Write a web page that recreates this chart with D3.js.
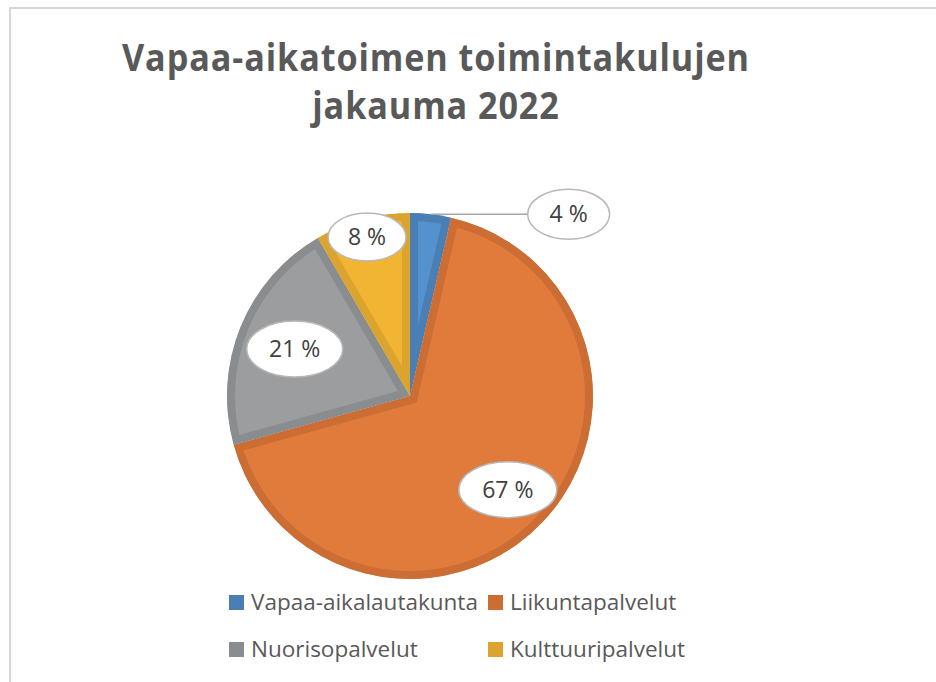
<!DOCTYPE html>
<html>
<head>
<meta charset="utf-8">
<title>Vapaa-aikatoimen toimintakulujen jakauma 2022</title>
<script src="https://d3js.org/d3.v7.min.js"></script>
<style>
body { margin: 0; padding: 0; background: white; }
svg { display: block; }
</style>
</head>
<body>
<svg id="chart" width="936" height="682"></svg>
<script>
// data
var categories = ["Vapaa-aikalautakunta", "Liikuntapalvelut", "Nuorisopalvelut", "Kulttuuripalvelut"];
var shares = [3.6, 67.1, 20.9, 8.4];
var titleLines = ["Vapaa-aikatoimen toimintakulujen", "jakauma 2022"];

var fills   = ["#5592cd", "#e07b3b", "#9b9d9e", "#f2b533"];
var borders = ["#4a7fb6", "#cc6d34", "#8a8d8f", "#daa42f"];

var svg = d3.select("#chart");

// chart frame
svg.append("rect")
  .attr("x", 10).attr("y", 8)
  .attr("width", 940).attr("height", 700)
  .attr("fill", "white")
  .attr("stroke", "#d6d6d6")
  .attr("stroke-width", 2);

// title (slightly condensed, like the original)
var tx = 436, sx = 0.9;
svg.append("g")
  .attr("transform", "translate(" + tx + ",0) scale(" + sx + ",1)")
  .selectAll("text")
  .data(titleLines)
  .enter().append("text")
  .attr("x", 0)
  .attr("y", function(d, i) { return 71 + i * 48; })
  .attr("text-anchor", "middle")
  .attr("font-family", "'Open Sans', sans-serif")
  .attr("font-weight", "bold")
  .attr("font-size", "38px")
  .attr("letter-spacing", "1px")
  .attr("fill", "#595959")
  .text(function(d) { return d; });

var cx = 410, cy = 396, R = 183;

var pie = d3.pie().sort(null).value(function(d) { return d; });
var arcs = pie(shares);
var arc = d3.arc().innerRadius(0).outerRadius(R);

var defs = svg.append("defs");
defs.selectAll("clipPath")
  .data(arcs)
  .enter().append("clipPath")
  .attr("id", function(d, i) { return "clip" + i; })
  .append("path")
  .attr("d", arc);

var g = svg.append("g").attr("transform", "translate(" + cx + "," + cy + ")");

g.selectAll("path.slice")
  .data(arcs)
  .enter().append("path")
  .attr("class", "slice")
  .attr("d", arc)
  .attr("fill", function(d, i) { return fills[i]; })
  .attr("stroke", function(d, i) { return borders[i]; })
  .attr("stroke-width", 16)
  .attr("stroke-linejoin", "miter")
  .attr("clip-path", function(d, i) { return "url(#clip" + i + ")"; });

// labels: inside at a fraction of the radius, small slice outside with leader
var labelR = [null, 0.74, 0.68, 0.9];
var rx = [41, 49, 48, 39], ry = [25, 28, 28, 24];

var labels = arcs.map(function(d, i) {
  var a = (d.startAngle + d.endAngle) / 2;
  var p;
  if (labelR[i] === null) {
    var ex = R * Math.sin(a), ey = -R * Math.cos(a);
    p = { x: ex + 138, y: ey, lx: ex, ly: ey };
  } else {
    p = { x: labelR[i] * R * Math.sin(a), y: -labelR[i] * R * Math.cos(a) };
  }
  p.text = Math.round(d.data) + " %";
  p.i = i;
  return p;
});

g.selectAll("line.leader")
  .data(labels.filter(function(d) { return d.lx !== undefined; }))
  .enter().append("line")
  .attr("class", "leader")
  .attr("x1", function(d) { return d.lx; })
  .attr("y1", function(d) { return d.ly; })
  .attr("x2", function(d) { return d.x - rx[d.i]; })
  .attr("y2", function(d) { return d.y; })
  .attr("stroke", "#a6a6a6")
  .attr("stroke-width", 1.5);

var lab = g.selectAll("g.lab")
  .data(labels)
  .enter().append("g")
  .attr("class", "lab")
  .attr("transform", function(d) { return "translate(" + d.x + "," + d.y + ")"; });

lab.append("ellipse")
  .attr("rx", function(d) { return rx[d.i]; })
  .attr("ry", function(d) { return ry[d.i]; })
  .attr("fill", "white")
  .attr("stroke", "#b8b8b8")
  .attr("stroke-width", 1.5);

lab.append("text")
  .attr("text-anchor", "middle")
  .attr("dy", "0.36em")
  .attr("font-family", "'Open Sans', sans-serif")
  .attr("font-size", "23px")
  .attr("fill", "#404040")
  .text(function(d) { return d.text; });

// legend
var legend = svg.append("g").selectAll("g")
  .data(categories)
  .enter().append("g")
  .attr("transform", function(d, i) {
    return "translate(" + (229 + (i % 2) * 259) + "," + (602 + Math.floor(i / 2) * 47) + ")";
  });

legend.append("rect")
  .attr("x", 0).attr("y", -7)
  .attr("width", 15).attr("height", 15)
  .attr("fill", function(d, i) { return borders[i]; });

legend.append("text")
  .attr("x", 22)
  .attr("y", 8)
  .attr("font-family", "'Open Sans', sans-serif")
  .attr("font-size", "22.5px")
  .attr("fill", "#595959")
  .text(function(d) { return d; });
</script>
</body>
</html>
